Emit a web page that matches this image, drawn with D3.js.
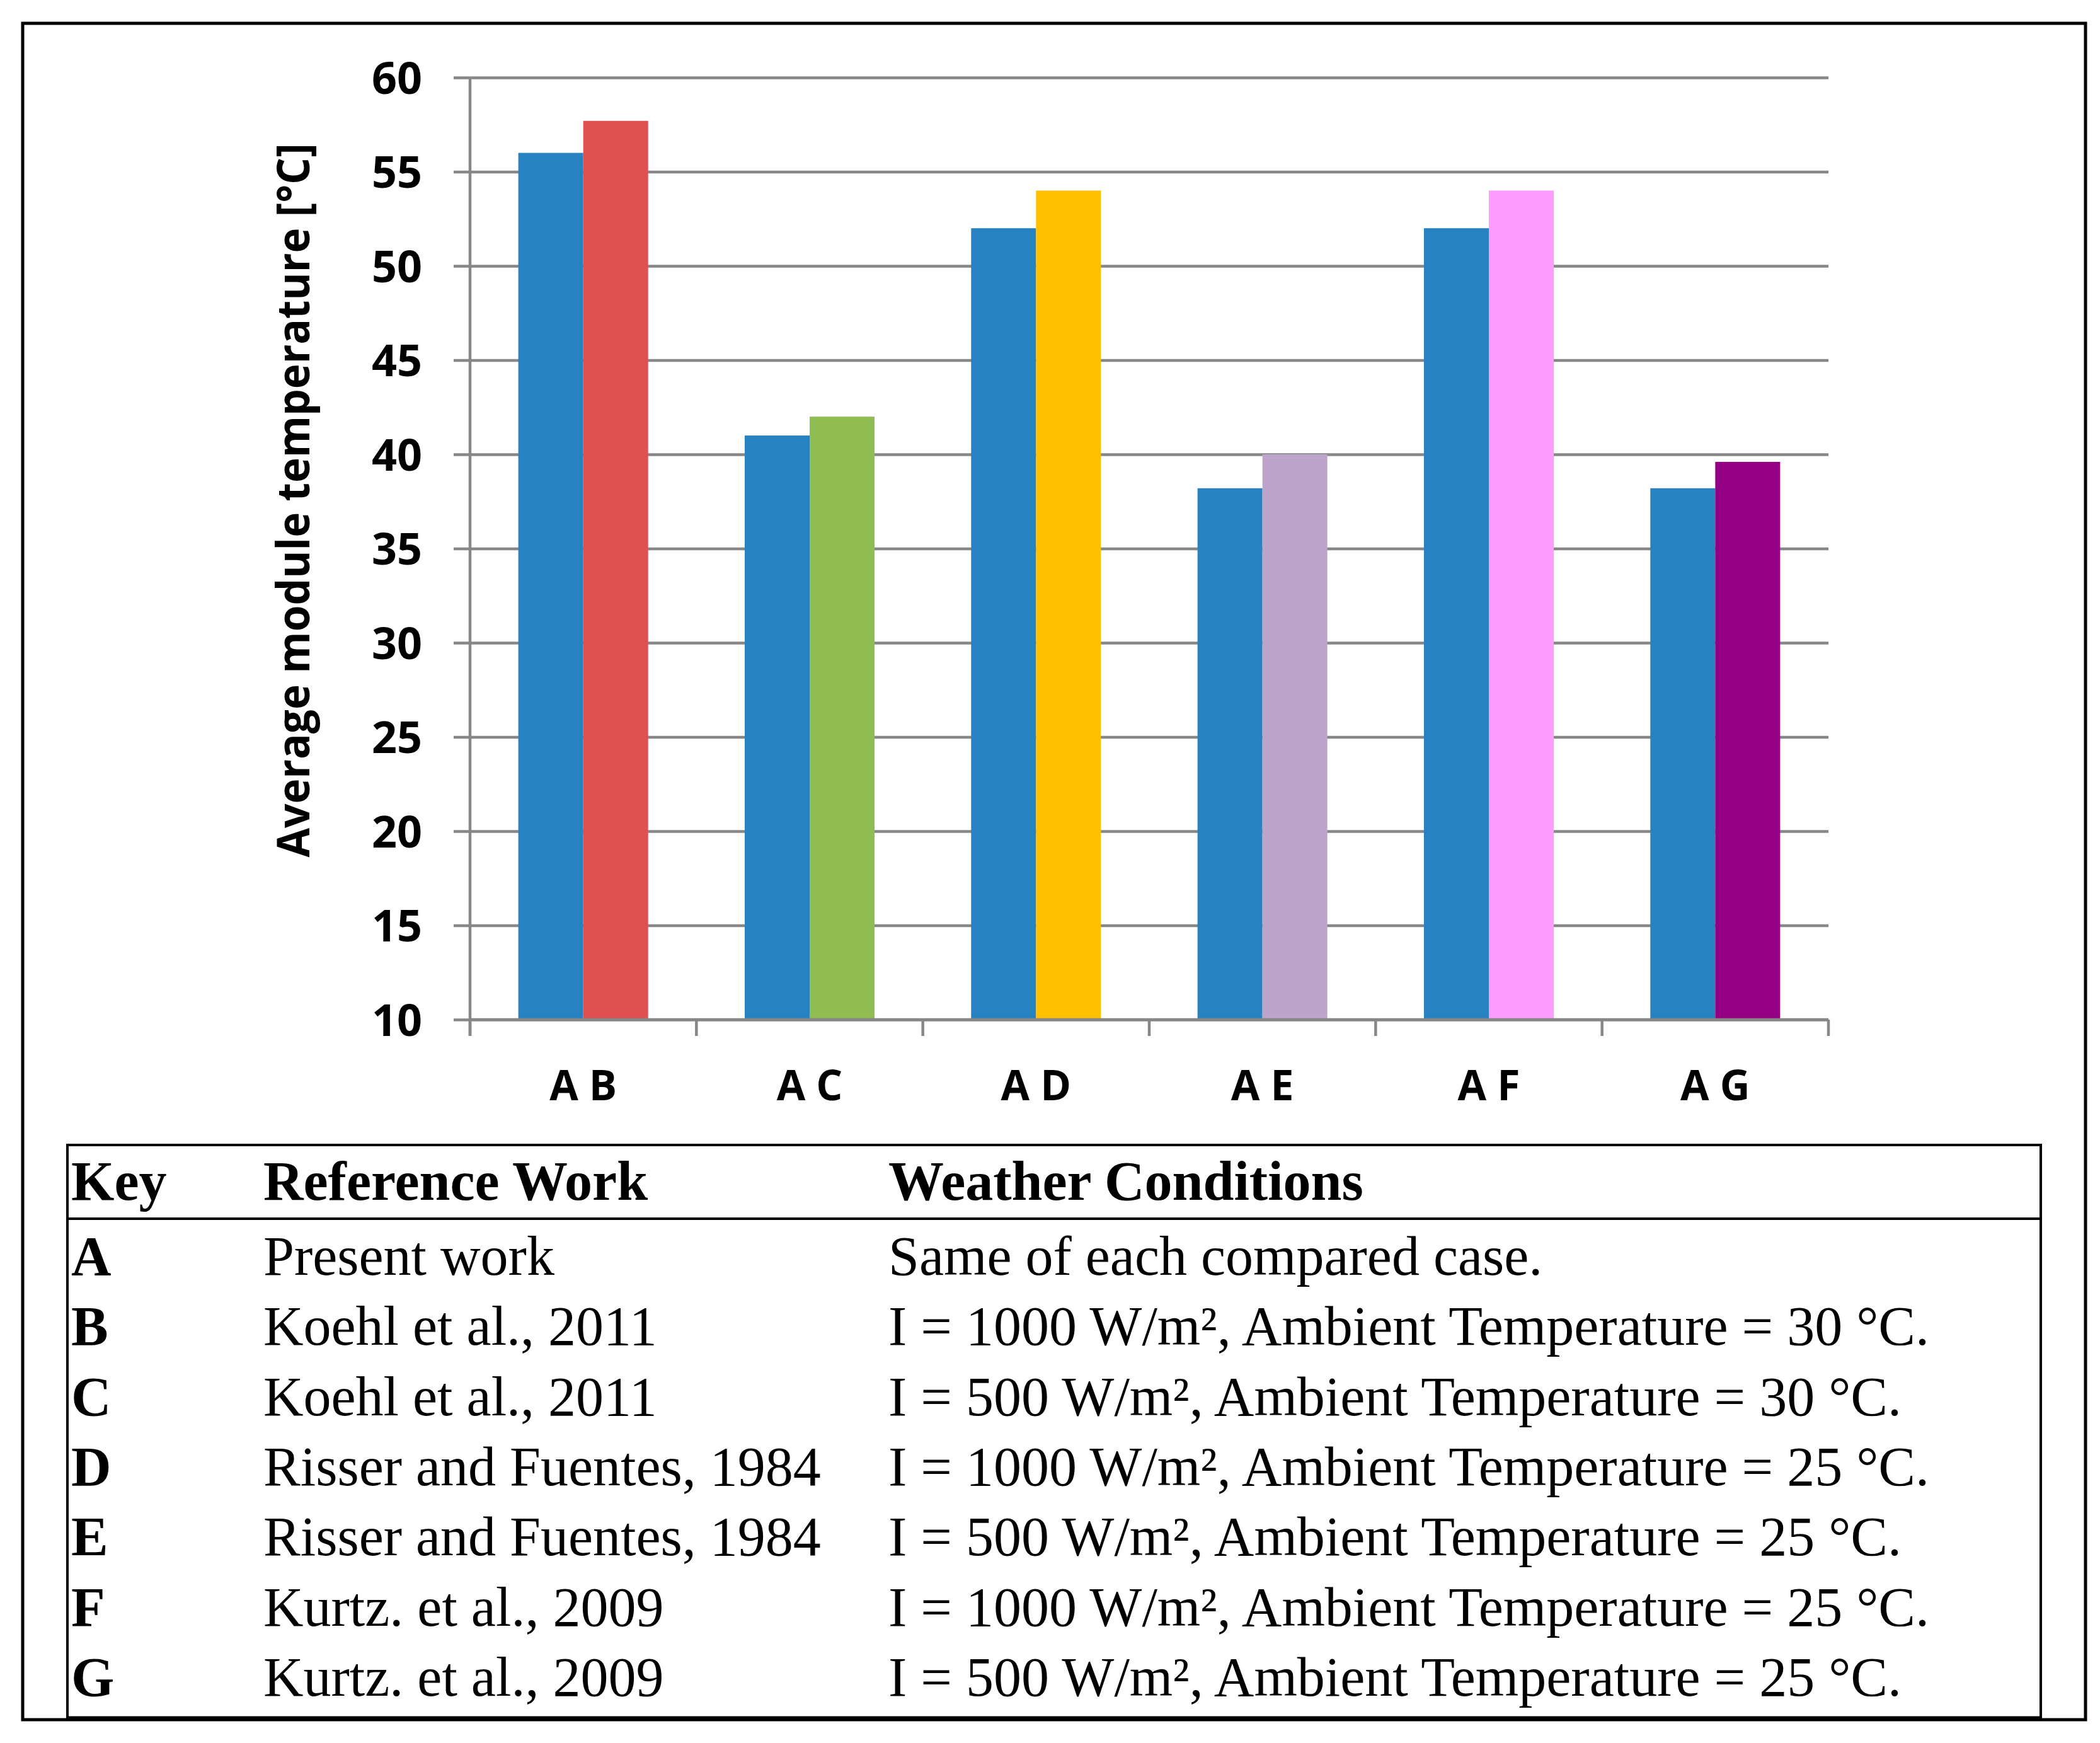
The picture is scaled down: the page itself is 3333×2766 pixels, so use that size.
<!DOCTYPE html>
<html>
<head>
<meta charset="utf-8">
<script src="https://cdn.jsdelivr.net/npm/d3@7"></script>
<style>
  html, body { margin: 0; padding: 0; background: #fff; }
  svg { display: block; }
  .axis text { font-family: 'Open Sans', sans-serif; font-weight: 700; fill: #000; }
  .tbl text { font-family: 'Liberation Serif', serif; fill: #000; }
</style>
</head>
<body>
<svg id="chart" width="3333" height="2766"></svg>
<script>
// chart data
const categories = ['A B', 'A C', 'A D', 'A E', 'A F', 'A G']
const presentWork = [56, 41, 52, 38.2, 52, 38.2]
const comparedWork = [57.7, 42, 54, 40, 54, 39.6]
const presentColor = '#2682c0'
const comparedColors = ['#df5150', '#8fbd51', '#ffc000', '#bca4cb', '#ff9cff', '#940084']
const yTicks = [10, 15, 20, 25, 30, 35, 40, 45, 50, 55, 60]
const yTitle = 'Average module temperature [°C]'

// key table
const tableHead = ['Key', 'Reference Work', 'Weather Conditions']
const keys = ['A', 'B', 'C', 'D', 'E', 'F', 'G']
const references = ['Present work', 'Koehl et al., 2011', 'Koehl et al., 2011',
  'Risser and Fuentes, 1984', 'Risser and Fuentes, 1984', 'Kurtz. et al., 2009', 'Kurtz. et al., 2009']
const conditions = ['Same of each compared case.',
  'I = 1000 W/m², Ambient Temperature = 30 °C.',
  'I = 500 W/m², Ambient Temperature = 30 °C.',
  'I = 1000 W/m², Ambient Temperature = 25 °C.',
  'I = 500 W/m², Ambient Temperature = 25 °C.',
  'I = 1000 W/m², Ambient Temperature = 25 °C.',
  'I = 500 W/m², Ambient Temperature = 25 °C.']

const svg = d3.select('#chart')
const grey = '#878787'

// outer frame
svg.append('rect')
  .attr('x', 36).attr('y', 37)
  .attr('width', 3310 - 36).attr('height', 2729 - 37)
  .attr('fill', 'none').attr('stroke', '#000').attr('stroke-width', 5)

// plot area
let plot = {left: 746, right: 2902, top: 123, bottom: 1618}
let width = plot.right - plot.left

let y = d3.scaleLinear().domain([10, 60]).range([plot.bottom, plot.top])
let x0 = d3.scaleBand().domain(categories).range([plot.left, plot.right])
let x1 = d3.scaleBand().domain(['present', 'compared'])
  .range([0, x0.bandwidth()]).paddingOuter(0.744)

// gridlines
svg.append('g')
  .attr('class', 'grid')
  .attr('transform', 'translate(' + plot.left + ',0)')
  .call(d3.axisLeft(y).tickValues(yTicks).tickSize(-width).tickFormat(''))
  .call(g => g.select('.domain').remove())
  .selectAll('line').attr('stroke', grey).attr('stroke-width', 4.5)

// bars
let groups = svg.append('g').selectAll('g')
  .data(categories)
  .enter().append('g')
  .attr('transform', (d) => 'translate(' + x0(d) + ',0)')

groups.append('rect')
  .attr('x', x1('present'))
  .attr('width', x1.bandwidth())
  .attr('y', (d, i) => y(presentWork[i]))
  .attr('height', (d, i) => y(10) - y(presentWork[i]))
  .attr('fill', presentColor)

groups.append('rect')
  .attr('x', x1('compared'))
  .attr('width', x1.bandwidth())
  .attr('y', (d, i) => y(comparedWork[i]))
  .attr('height', (d, i) => y(10) - y(comparedWork[i]))
  .attr('fill', (d, i) => comparedColors[i])

// y axis with labels
let yAxis = svg.append('g')
  .attr('class', 'axis')
  .attr('transform', 'translate(' + plot.left + ',0)')
  .call(d3.axisLeft(y).tickValues(yTicks).tickSize(26).tickSizeOuter(0).tickPadding(50))
yAxis.select('.domain').attr('stroke', grey).attr('stroke-width', 4.5)
  .attr('d', 'M0,' + plot.top + 'V' + (plot.bottom + 26))
yAxis.selectAll('line').attr('stroke', grey).attr('stroke-width', 4.5)
yAxis.selectAll('text').attr('font-size', 70).attr('dy', '0.36em')

// x axis: labels at band centres, ticks at category boundaries
let xAxis = svg.append('g')
  .attr('class', 'axis')
  .attr('transform', 'translate(0,' + plot.bottom + ')')
  .call(d3.axisBottom(x0).tickSize(0).tickSizeOuter(0))
xAxis.select('.domain').remove()
xAxis.selectAll('text').attr('font-size', 66).attr('dy', 0).attr('y', 128)

let bounds = categories.map((c) => x0(c)).concat([plot.right])
xAxis.selectAll('.bound')
  .data(bounds)
  .enter().append('line')
  .attr('class', 'bound')
  .attr('x1', (d) => d).attr('x2', (d) => d)
  .attr('y1', 0).attr('y2', 26)
  .attr('stroke', grey).attr('stroke-width', 4.5)
xAxis.append('line')
  .attr('x1', plot.left).attr('x2', plot.right)
  .attr('stroke', grey).attr('stroke-width', 4.5)

// y axis title
svg.append('text')
  .attr('class', 'axis')
  .attr('transform', 'translate(491,794) rotate(-90)')
  .attr('text-anchor', 'middle')
  .attr('font-family', 'Open Sans, sans-serif')
  .attr('font-weight', 700)
  .attr('font-size', 72)
  .attr('textLength', 1133)
  .attr('lengthAdjust', 'spacingAndGlyphs')
  .text(yTitle)

// key table
let tbl = {left: 107, right: 3239, top: 1817, bottom: 2727, headLine: 1934}
let cols = [113, 418, 1410]
let tg = svg.append('g').attr('class', 'tbl')

tg.append('rect')
  .attr('x', tbl.left).attr('y', tbl.top)
  .attr('width', tbl.right - tbl.left).attr('height', tbl.bottom - tbl.top)
  .attr('fill', 'none').attr('stroke', '#000').attr('stroke-width', 4)
tg.append('line')
  .attr('x1', tbl.left).attr('x2', tbl.right)
  .attr('y1', tbl.headLine).attr('y2', tbl.headLine)
  .attr('stroke', '#000').attr('stroke-width', 4)
tg.append('line')
  .attr('x1', tbl.left).attr('x2', tbl.right)
  .attr('y1', tbl.bottom).attr('y2', tbl.bottom)
  .attr('stroke', '#000').attr('stroke-width', 7)

tg.selectAll('.head')
  .data(tableHead)
  .enter().append('text')
  .attr('class', 'head')
  .attr('x', (d, i) => cols[i]).attr('y', 1904)
  .attr('font-size', 88).attr('font-weight', 700)
  .text((d) => d)

let rowY = (i) => 2023 + i * 111.3

let rows = tg.selectAll('.row')
  .data(keys)
  .enter().append('g')
  .attr('class', 'row')
  .attr('transform', (d, i) => 'translate(0,' + rowY(i) + ')')

rows.append('text')
  .attr('x', cols[0]).attr('font-size', 88).attr('font-weight', 700)
  .text((d) => d)
rows.append('text')
  .attr('x', cols[1]).attr('font-size', 88)
  .text((d, i) => references[i])
rows.append('text')
  .attr('x', cols[2]).attr('font-size', 88)
  .text((d, i) => conditions[i])
</script>
</body>
</html>
